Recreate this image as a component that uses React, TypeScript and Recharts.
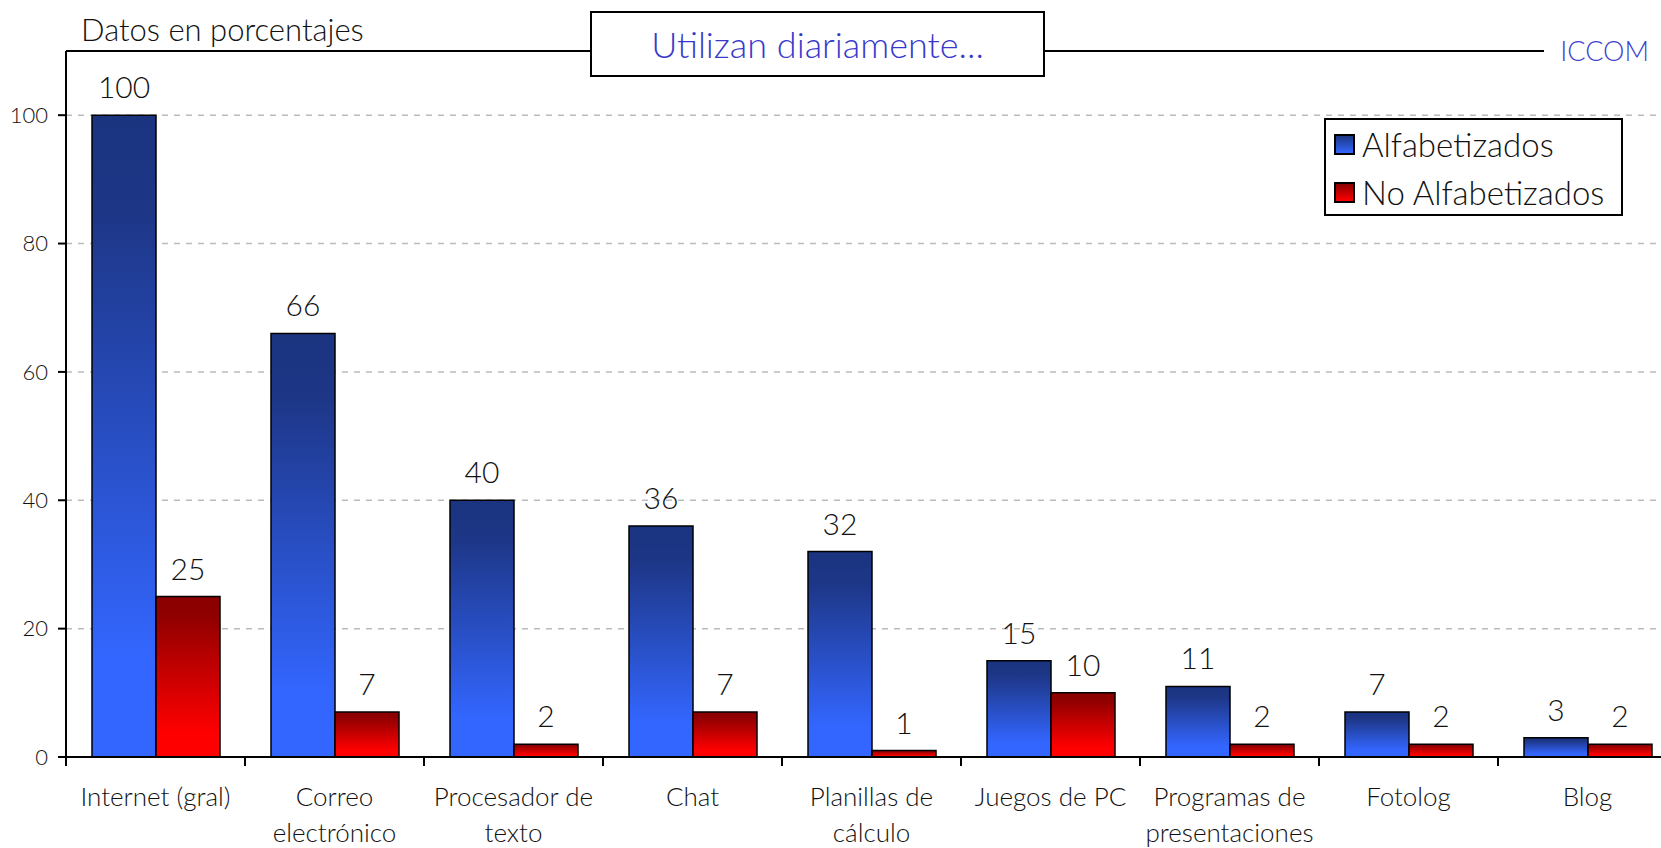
import { BarChart, Bar, XAxis, YAxis, CartesianGrid, ReferenceLine, LabelList } from 'recharts'

const categories = [
  'Internet (gral)',
  'Correo\nelectrónico',
  'Procesador de\ntexto',
  'Chat',
  'Planillas de\ncálculo',
  'Juegos de PC',
  'Programas de\npresentaciones',
  'Fotolog',
  'Blog',
]
const alfabetizados = [100, 66, 40, 36, 32, 15, 11, 7, 3]
const noAlfabetizados = [25, 7, 2, 7, 1, 10, 2, 2, 2]
const yTicks = [0, 20, 40, 60, 80, 100]
const yMax = 110

const FONT = 'Lato, "Noto Sans", sans-serif'
const WEIGHT = 300
const CAT_W = 179

const data = categories.map((name, i) => ({
  name,
  alfa: alfabetizados[i],
  noAlfa: noAlfabetizados[i],
}))

// eslint-disable-next-line @typescript-eslint/no-explicit-any
function CategoryTick(props: any) {
  const { x, y, payload } = props
  const lines = String(payload.value).split('\n')
  const left = x - CAT_W / 2
  return (
    <g>
      <line x1={left} x2={left} y1={y} y2={y + 9} stroke="#000" strokeWidth={2} />
      {lines.map((line, i) => (
        <text
          key={i}
          x={x}
          y={y + 49 + i * 36}
          textAnchor="middle"
          fontSize={26}
          fontWeight={WEIGHT}
          fill="#111"
          fontFamily={FONT}
        >
          {line}
        </text>
      ))}
    </g>
  )
}

function LegendBox() {
  const items = [
    { label: 'Alfabetizados', bg: 'linear-gradient(#1c3683, #3366ff)' },
    { label: 'No Alfabetizados', bg: 'linear-gradient(#8b0000, #ff0000)' },
  ]
  return (
    <div
      style={{
        position: 'absolute',
        left: 1324,
        top: 118,
        width: 287,
        height: 94,
        background: '#fff',
        border: '2px solid #000',
        padding: '0 0 0 8px',
        boxSizing: 'content-box',
        fontFamily: FONT,
        fontWeight: WEIGHT,
        fontSize: 33,
        color: '#111',
      }}
    >
      {items.map(it => (
        <div key={it.label} style={{ display: 'flex', alignItems: 'center', gap: 7, height: 48, whiteSpace: 'nowrap' }}>
          <div style={{ width: 17, height: 17, border: '2px solid #000', background: it.bg, flex: 'none' }} />
          {it.label}
        </div>
      ))}
    </div>
  )
}

export default function App() {
  return (
    <div style={{ position: 'absolute', left: 0, top: 0, width: 1661, height: 848, overflow: 'hidden', background: '#fff' }}>
      <BarChart
        width={1700}
        height={848}
        data={data}
        margin={{ top: 51, right: 23, bottom: 0, left: 0 }}
        barGap={0}
        barSize={64}
      >
        <defs>
          <linearGradient id="gBlue" x1="0" y1="0" x2="0" y2="1">
            <stop offset="0%" stopColor="#1b3480" />
            <stop offset="15%" stopColor="#1d3686" />
            <stop offset="85%" stopColor="#3366ff" />
            <stop offset="100%" stopColor="#3366ff" />
          </linearGradient>
          <linearGradient id="gRed" x1="0" y1="0" x2="0" y2="1">
            <stop offset="0%" stopColor="#8a0000" />
            <stop offset="12%" stopColor="#900000" />
            <stop offset="85%" stopColor="#ff0000" />
            <stop offset="100%" stopColor="#ff0000" />
          </linearGradient>
        </defs>
        <CartesianGrid vertical={false} stroke="#bbbbbb" strokeDasharray="6 6" strokeWidth={1.5} />
        <XAxis
          dataKey="name"
          interval={0}
          height={91}
          tickSize={0}
          tickMargin={0}
          tickLine={false}
          axisLine={{ stroke: '#000', strokeWidth: 2 }}
          tick={<CategoryTick />}
        />
        <YAxis
          width={66}
          domain={[0, yMax]}
          ticks={yTicks}
          tickSize={8}
          tickMargin={10}
          tickLine={{ stroke: '#000', strokeWidth: 2 }}
          axisLine={{ stroke: '#000', strokeWidth: 2 }}
          tick={{ fontSize: 22, fontWeight: WEIGHT, fill: '#111', fontFamily: FONT }}
        />
        <ReferenceLine y={yMax} stroke="#000" strokeWidth={2} />
        <Bar dataKey="alfa" name="Alfabetizados" fill="url(#gBlue)" stroke="#000" strokeWidth={1.5} isAnimationActive={false}>
          <LabelList dataKey="alfa" position="top" offset={17} fill="#111" fontSize={30} fontWeight={WEIGHT} fontFamily={FONT} />
        </Bar>
        <Bar dataKey="noAlfa" name="No Alfabetizados" fill="url(#gRed)" stroke="#000" strokeWidth={1.5} isAnimationActive={false}>
          <LabelList dataKey="noAlfa" position="top" offset={17} fill="#111" fontSize={30} fontWeight={WEIGHT} fontFamily={FONT} />
        </Bar>
      </BarChart>
      <LegendBox />
      <div style={{ position: 'absolute', left: 81, top: 10, fontFamily: FONT, fontWeight: WEIGHT, fontSize: 31, color: '#111' }}>
        Datos en porcentajes
      </div>
      <div
        style={{
          position: 'absolute',
          left: 590,
          top: 11,
          width: 451,
          height: 62,
          border: '2px solid #000',
          background: '#fff',
          display: 'flex',
          alignItems: 'center',
          justifyContent: 'center',
          fontFamily: FONT,
          fontWeight: WEIGHT,
          fontSize: 36,
          color: '#3838cc',
        }}
      >
        Utilizan diariamente...
      </div>
      <div
        style={{
          position: 'absolute',
          left: 1544,
          top: 32,
          width: 117,
          height: 36,
          background: '#fff',
          display: 'flex',
          alignItems: 'center',
          justifyContent: 'flex-end',
          paddingRight: 12,
          boxSizing: 'border-box',
          fontFamily: FONT,
          fontWeight: WEIGHT,
          fontSize: 27,
          color: '#4040d0',
        }}
      >
        ICCOM
      </div>
    </div>
  )
}
